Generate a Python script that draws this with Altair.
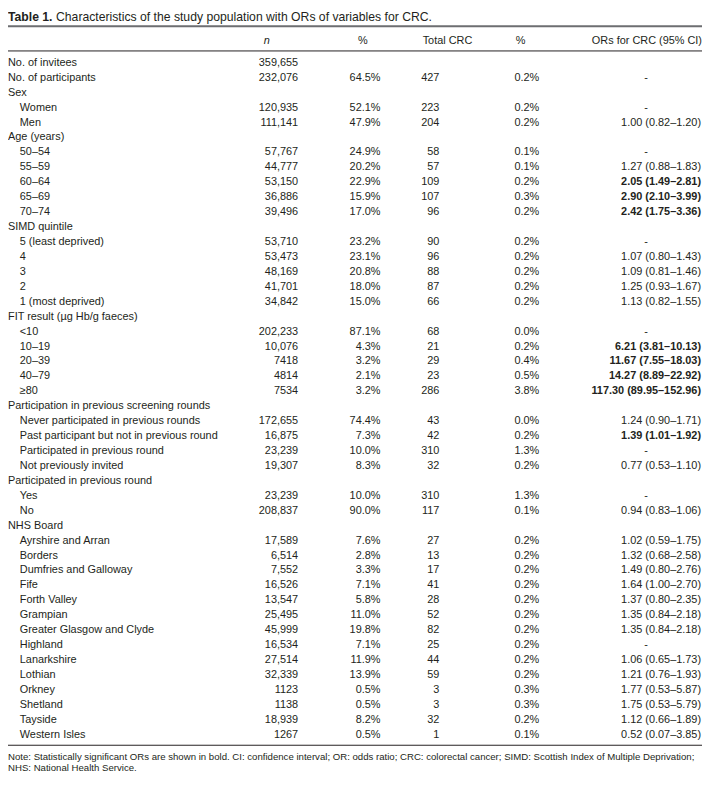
import altair as alt
import pandas as pd

# ---------------- data ----------------
title_bold = "Table 1."
title_rest = "Characteristics of the study population with ORs of variables for CRC."
headers = ["n", "%", "Total CRC", "%", "ORs for CRC (95% CI)"]
notes = [
    "Note: Statistically significant ORs are shown in bold. CI: confidence interval; OR: odds ratio; CRC: colorectal cancer; SIMD: Scottish Index of Multiple Deprivation;",
    "NHS: National Health Service.",
]

sections = [
    (None, ["No. of invitees", "No. of participants"]),
    ("Sex", ["Women", "Men"]),
    ("Age (years)", ["50–54", "55–59", "60–64", "65–69", "70–74"]),
    ("SIMD quintile", ["5 (least deprived)", "4", "3", "2", "1 (most deprived)"]),
    ("FIT result (µg Hb/g faeces)", ["<10", "10–19", "20–39", "40–79", "≥80"]),
    ("Participation in previous screening rounds",
     ["Never participated in previous rounds", "Past participant but not in previous round",
      "Participated in previous round", "Not previously invited"]),
    ("Participated in previous round", ["Yes", "No"]),
    ("NHS Board", ["Ayrshire and Arran", "Borders", "Dumfries and Galloway", "Fife", "Forth Valley",
                   "Grampian", "Greater Glasgow and Clyde", "Highland", "Lanarkshire", "Lothian",
                   "Orkney", "Shetland", "Tayside", "Western Isles"]),
]

n_text = ["359,655", "232,076", None, "120,935", "111,141", None,
          "57,767", "44,777", "53,150", "36,886", "39,496", None,
          "53,710", "53,473", "48,169", "41,701", "34,842", None,
          "202,233", "10,076", "7418", "4814", "7534", None,
          "172,655", "16,875", "23,239", "19,307", None,
          "23,239", "208,837", None,
          "17,589", "6,514", "7,552", "16,526", "13,547", "25,495", "45,999", "16,534",
          "27,514", "32,339", "1123", "1138", "18,939", "1267"]
pct_n = [None, 64.5, None, 52.1, 47.9, None,
         24.9, 20.2, 22.9, 15.9, 17.0, None,
         23.2, 23.1, 20.8, 18.0, 15.0, None,
         87.1, 4.3, 3.2, 2.1, 3.2, None,
         74.4, 7.3, 10.0, 8.3, None,
         10.0, 90.0, None,
         7.6, 2.8, 3.3, 7.1, 5.8, 11.0, 19.8, 7.1, 11.9, 13.9, 0.5, 0.5, 8.2, 0.5]
crc = [None, 427, None, 223, 204, None,
       58, 57, 109, 107, 96, None,
       90, 96, 88, 87, 66, None,
       68, 21, 29, 23, 286, None,
       43, 42, 310, 32, None,
       310, 117, None,
       27, 13, 17, 41, 28, 52, 82, 25, 44, 59, 3, 3, 32, 1]
pct_crc = [None, 0.2, None, 0.2, 0.2, None,
           0.1, 0.1, 0.2, 0.3, 0.2, None,
           0.2, 0.2, 0.2, 0.2, 0.2, None,
           0.0, 0.2, 0.4, 0.5, 3.8, None,
           0.0, 0.2, 1.3, 0.2, None,
           1.3, 0.1, None,
           0.2, 0.2, 0.2, 0.2, 0.2, 0.2, 0.2, 0.2, 0.2, 0.2, 0.3, 0.3, 0.2, 0.1]
or_est = [None, None, None, None, 1.00, None,
          None, 1.27, 2.05, 2.90, 2.42, None,
          None, 1.07, 1.09, 1.25, 1.13, None,
          None, 6.21, 11.67, 14.27, 117.30, None,
          1.24, 1.39, None, 0.77, None,
          None, 0.94, None,
          1.02, 1.32, 1.49, 1.64, 1.37, 1.35, 1.35, None, 1.06, 1.21, 1.77, 1.75, 1.12, 0.52]
or_lo = [None, None, None, None, 0.82, None,
         None, 0.88, 1.49, 2.10, 1.75, None,
         None, 0.80, 0.81, 0.93, 0.82, None,
         None, 3.81, 7.55, 8.89, 89.95, None,
         0.90, 1.01, None, 0.53, None,
         None, 0.83, None,
         0.59, 0.68, 0.80, 1.00, 0.80, 0.84, 0.84, None, 0.65, 0.76, 0.53, 0.53, 0.66, 0.07]
or_hi = [None, None, None, None, 1.20, None,
         None, 1.83, 2.81, 3.99, 3.36, None,
         None, 1.43, 1.46, 1.67, 1.55, None,
         None, 10.13, 18.03, 22.92, 152.96, None,
         1.71, 1.92, None, 1.10, None,
         None, 1.06, None,
         1.75, 2.58, 2.76, 2.70, 2.35, 2.18, 2.18, None, 1.73, 1.93, 5.87, 5.79, 1.89, 3.85]

# ---------------- layout ----------------
COL_X = {"label": 1, "item": 13,
         "n_head": 262, "n": 297,
         "pct_head": 358, "pct": 381,
         "crc_head": 424, "crc": 441,
         "pctc_head": 519, "pctc": 543,
         "or_head": 709, "or": 708, "or_ref": 652,
         "title_a": 1, "title_b": 50, "note": 1}
ROW_Y = {"title": -3.054, "header": -1.461, "note1": 46.461, "note2": 47.211}
RULES = [(-2.457, "thick"), (-0.797, "thin"), (45.704, "thin")]

FONT = "Liberation Sans"
INK = "#231f20"
W, H = 700, 768
ROW0, STEP = 52.0, 15.06

# ---------------- build cells ----------------
labels, kinds = [], []
for head, items in sections:
    if head is None:
        for it in items:
            labels.append(it); kinds.append("label")
    else:
        labels.append(head); kinds.append("label")
        for it in items:
            labels.append(it); kinds.append("item")

recs = []
def add(col, row, text, group):
    recs.append({"x": COL_X[col], "row": row, "text": text, "group": group})

add("title_a", ROW_Y["title"], title_bold, "title_bold")
add("title_b", ROW_Y["title"], title_rest, "title")
add("n_head", ROW_Y["header"], headers[0], "left_italic")
add("pct_head", ROW_Y["header"], headers[1], "left")
add("crc_head", ROW_Y["header"], headers[2], "left")
add("pctc_head", ROW_Y["header"], headers[3], "left")
add("or_head", ROW_Y["header"], headers[4], "right")
add("note", ROW_Y["note1"], notes[0], "note")
add("note", ROW_Y["note2"], notes[1], "note")

for i, (lab, kind) in enumerate(zip(labels, kinds)):
    add(kind, i, lab, "left")
    if n_text[i] is not None:
        add("n", i, n_text[i], "right")
    if pct_n[i] is not None:
        add("pct", i, f"{pct_n[i]:.1f}%", "right")
    if crc[i] is not None:
        add("crc", i, str(crc[i]), "right")
    if pct_crc[i] is not None:
        add("pctc", i, f"{pct_crc[i]:.1f}%", "right")
    if or_est[i] is not None:
        sig = or_lo[i] > 1 or or_hi[i] < 1
        add("or", i, f"{or_est[i]:.2f} ({or_lo[i]:.2f}–{or_hi[i]:.2f})", "right_bold" if sig else "right")
    elif crc[i] is not None:
        add("or_ref", i, "-", "center")

cells = pd.DataFrame(recs)
rules = pd.DataFrame([{"row": r, "x": 1, "x2": 709, "kind": k} for r, k in RULES])

xs = alt.Scale(domain=[1, 709], range=[0, W], nice=False, zero=False)
ys = alt.Scale(domain=[-ROW0 / STEP, (H - ROW0) / STEP], range=[0, H], nice=False, zero=False)

X = alt.X("x:Q", scale=xs, axis=None)
Y = alt.Y("row:Q", scale=ys, axis=None)

base = alt.Chart(cells)

def text_layer(group, **kw):
    opts = dict(baseline="middle", font=FONT, color=INK, fontSize=11)
    opts.update(kw)
    return base.transform_filter(alt.datum.group == group).mark_text(**opts).encode(
        x=X, y=Y, text="text:N")

layers = [
    text_layer("title_bold", align="left", fontWeight="bold", fontSize=12.3),
    text_layer("title", align="left", fontSize=12.3),
    text_layer("left", align="left"),
    text_layer("left_italic", align="left", fontStyle="italic"),
    text_layer("right", align="right"),
    text_layer("right_bold", align="right", fontWeight="bold"),
    text_layer("center", align="center"),
    text_layer("note", align="left", fontSize=9.7),
]

rule_base = alt.Chart(rules)
thick = rule_base.transform_filter(alt.datum.kind == "thick").mark_rule(
    color="#6d6e71", strokeWidth=2).encode(x=X, x2="x2:Q", y=Y)
thin = rule_base.transform_filter(alt.datum.kind == "thin").mark_rule(
    color=INK, strokeWidth=1).encode(x=X, x2="x2:Q", y=Y)

chart = alt.layer(thick, thin, *layers).properties(
    width=W, height=H, padding=0,
    autosize=alt.AutoSizeParams(type="none"),
    background="white",
).configure_view(strokeWidth=0)

chart.save("out.html", embed_options={"renderer": "svg", "actions": False})
